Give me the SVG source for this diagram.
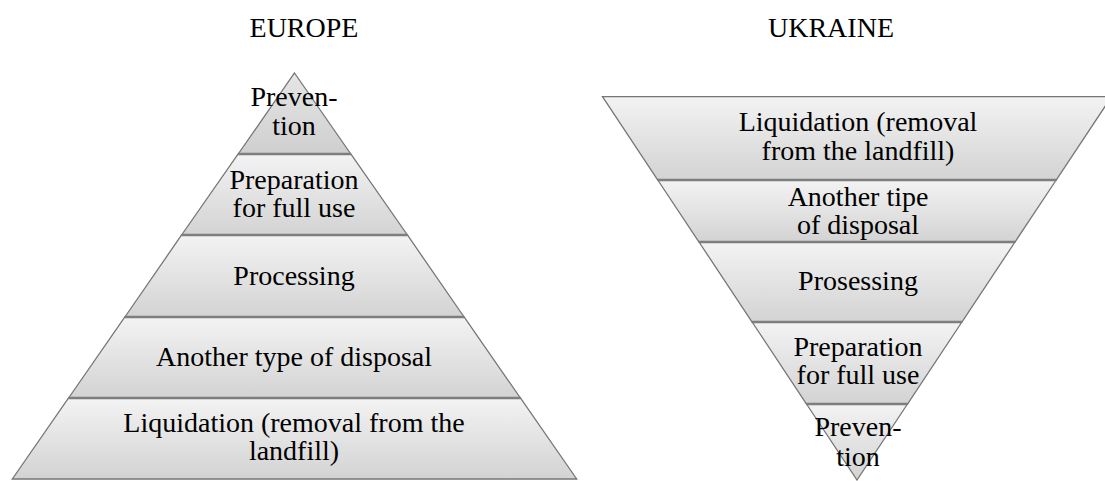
<svg xmlns="http://www.w3.org/2000/svg" width="1105" height="481" viewBox="0 0 1105 481">
<style>
.band{stroke:#767676;stroke-width:1.3;stroke-linejoin:miter;fill:url(#g)}
.tip{fill:url(#gt)}
.sep{stroke:#7e7e7e;stroke-width:2.4}
text{font-family:"Liberation Serif","Times New Roman",serif;font-size:28px;fill:#000;text-anchor:middle}
</style>
<defs>
<linearGradient id="g" x1="0" y1="0" x2="0" y2="1">
<stop offset="0" stop-color="#f3f3f3"/>
<stop offset="1" stop-color="#d3d3d3"/>
</linearGradient>
<linearGradient id="gt" x1="0" y1="0" x2="0" y2="1">
<stop offset="0" stop-color="#e6e6e6"/>
<stop offset="1" stop-color="#cfcfcf"/>
</linearGradient>
</defs>
<rect width="1105" height="481" fill="#fff"/>
<text x="304" y="37">EUROPE</text>
<text x="831" y="37">UKRAINE</text>

<g id="europe">
<g id="eu-prevention">
<polygon class="band tip" points="294.5,73 350.8,154 238.2,154"/>
<text x="294" y="105.5">Preven-</text>
<text x="294" y="135">tion</text>
</g>
<g id="eu-preparation">
<polygon class="band" points="238.2,154 350.8,154 407.4,235 181.6,235"/>
<text x="294" y="189">Preparation</text>
<text x="294" y="217">for full use</text>
</g>
<g id="eu-processing">
<polygon class="band" points="181.6,235 407.4,235 464.1,317 124.9,317"/>
<text x="294" y="285">Processing</text>
</g>
<g id="eu-disposal">
<polygon class="band" points="124.9,317 464.1,317 520.4,398 68.6,398"/>
<text x="294" y="366">Another type of disposal</text>
</g>
<g id="eu-liquidation">
<polygon class="band" points="68.6,398 520.4,398 576.7,479 12.3,479"/>
<text x="294" y="432">Liquidation (removal from the</text>
<text x="294" y="460">landfill)</text>
</g>
</g>

<g id="ukraine">
<g id="ua-liquidation">
<polygon class="band" points="602.5,96.7 1111.5,96.7 1056.2,180 657.8,180"/>
<text x="858" y="131">Liquidation (removal</text>
<text x="858" y="160">from the landfill)</text>
</g>
<g id="ua-disposal">
<polygon class="band" points="657.8,180 1056.2,180 1015,242 699,242"/>
<text x="858" y="205.5">Another tipe</text>
<text x="858" y="234">of disposal</text>
</g>
<g id="ua-processing">
<polygon class="band" points="699,242 1015,242 961.9,322 752.1,322"/>
<text x="858" y="290">Prosessing</text>
</g>
<g id="ua-preparation">
<polygon class="band" points="752.1,322 961.9,322 907.5,404 806.5,404"/>
<text x="858" y="356">Preparation</text>
<text x="858" y="384">for full use</text>
</g>
<g id="ua-prevention">
<polygon class="band" points="806.5,404 907.5,404 857,480"/>
<text x="858" y="436">Preven-</text>
<text x="858" y="466">tion</text>
</g>
</g>

<g id="connectors">
<line class="sep" x1="238.2" y1="154" x2="350.8" y2="154"/>
<line class="sep" x1="181.6" y1="235" x2="407.4" y2="235"/>
<line class="sep" x1="124.9" y1="317" x2="464.1" y2="317"/>
<line class="sep" x1="68.6" y1="398" x2="520.4" y2="398"/>
<line class="sep" x1="657.8" y1="180" x2="1056.2" y2="180"/>
<line class="sep" x1="699" y1="242" x2="1015" y2="242"/>
<line class="sep" x1="752.1" y1="322" x2="961.9" y2="322"/>
<line class="sep" x1="806.5" y1="404" x2="907.5" y2="404"/>
</g>
</svg>
